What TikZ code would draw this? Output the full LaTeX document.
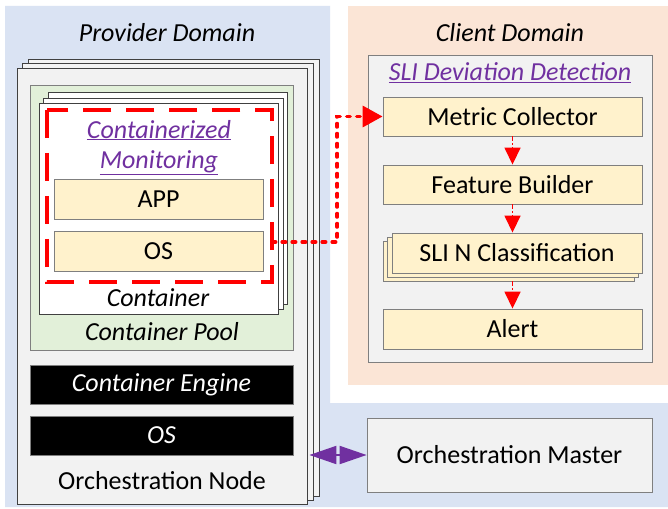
\documentclass[tikz,border=0pt]{standalone}
\usepackage{fontspec}
\setmainfont{Carlito}
\usetikzlibrary{arrows.meta,calc}

\definecolor{provbg}{HTML}{DAE3F3}
\definecolor{clibg}{HTML}{FBE5D6}
\definecolor{poolbg}{HTML}{E2F0D9}
\definecolor{lgray}{HTML}{F2F2F2}
\definecolor{ybox}{HTML}{FFF2CC}
\definecolor{purp}{HTML}{7030A0}
\definecolor{edge}{HTML}{7F7F7F}
\definecolor{dedge}{HTML}{404040}

\newcommand{\bodysize}{\fontsize{26}{30}\selectfont}

\tikzset{
  bodyfont/.style={font=\bodysize},
  frame/.style={draw=dedge, line width=0.8pt, inner sep=0pt},
  nodebox/.style={frame, fill=lgray},
  ctrbox/.style={frame, fill=white},
  ybx/.style={draw=edge, line width=0.9pt, fill=ybox, inner sep=0pt, bodyfont},
  blackbox/.style={draw=edge, line width=0.8pt, fill=black, text=white, inner sep=0pt,
    font=\bodysize\itshape},
  lbl/.style={inner sep=0pt, bodyfont},
  ilbl/.style={inner sep=0pt, font=\bodysize\itshape},
  plbl/.style={inner sep=0pt, anchor=base, text=purp, font=\bodysize\itshape},
  monframe/.style={draw=red, line width=3.5pt, dash pattern=on 28pt off 15pt},
  feed/.style={draw=red, line width=3.5pt, line cap=round, dash pattern=on 3.5pt off 6.5pt,
    -{Triangle[length=20pt,width=21pt,line cap=butt]}},
  flow/.style={draw=red, line width=1.6pt, dash pattern=on 5pt off 2pt on 1.5pt off 2pt,
    -{Triangle[length=17pt,width=16pt]}},
  orch/.style={draw=purp, fill=purp, line width=2pt,
    {Triangle[length=27pt,width=18pt]}-{Triangle[length=27pt,width=18pt]}},
}

% corner-based box: \bx{style}{name}{x1}{y1}{x2}{y2}{text}
\newcommand{\bx}[7]{%
  \node[#1, minimum width={(#5)-(#3)}, minimum height={(#6)-(#4)}]
    (#2) at ({((#3)+(#5))/2},{((#4)+(#6))/2}) {#7};}

\begin{document}
\begin{tikzpicture}[x=1pt,y=-1pt]
\useasboundingbox (0,0) rectangle (668,508);
\fill[white] (0,0) rectangle (668,508);

% provider and client domains
\fill[provbg] (5,6) -- (330,6) -- (330,403) -- (668,403) -- (668,507) -- (5,507) -- cycle;
\fill[clibg] (348,6) rectangle (668,385);
\node[ilbl] (provT) at (167,33) {Provider Domain};
\node[ilbl] (cliT) at (510,33) {Client Domain};

% orchestration node stack
\bx{nodebox}{onC}{28}{59}{319}{496}{}
\bx{nodebox}{onB}{22}{63}{313}{500}{}
\bx{nodebox}{onA}{17}{68}{307}{504}{}
\node[lbl] (onT) at (162,481) {Orchestration Node};

% container pool
\bx{frame, draw=edge, fill=poolbg}{pool}{30}{85}{293}{350}{}
\node[ilbl] (poolT) at (162,332) {Container Pool};

% container stack
\bx{ctrbox}{ctC}{48}{92}{287}{304}{}
\bx{ctrbox}{ctB}{43}{98}{283}{309}{}
\bx{ctrbox}{ctA}{39}{103}{278}{314}{}
\node[ilbl] (ctT) at (158,298) {Container};

% containerized monitoring
\bx{inner sep=0pt}{mon}{47}{110}{272}{282}{}
\draw[monframe] (mon.north west) rectangle (mon.south east);
\node[plbl] (monT1) at (159,138) {\underline{Containerized}};
\node[plbl] (monT2) at (159,168) {\underline{Monitoring}};
\bx{ybx}{app}{54}{179}{263}{219}{APP}
\bx{ybx}{cos}{54}{231}{263}{271}{OS}

% engine and host OS
\bx{blackbox}{eng}{30}{365}{293}{404}{Container Engine}
\bx{blackbox}{hos}{30}{416}{293}{455}{OS}

% SLI deviation detection
\bx{frame, draw=edge, fill=lgray}{sli}{368}{55}{652}{362}{}
\node[plbl] (sliT) at (510,81) {\underline{SLI Deviation Detection}};
\bx{ybx}{mc}{383}{97}{642}{136}{Metric Collector}
\bx{ybx}{fb}{383}{165}{642}{204}{Feature Builder}
\bx{ybx}{clsC}{383}{241}{634}{281}{}
\bx{ybx}{clsB}{387}{237}{638}{277}{}
\bx{ybx}{clsA}{392}{233}{642}{273}{SLI N Classification}
\bx{ybx}{al}{383}{309}{642}{349}{Alert}

% orchestration master
\bx{frame, draw=edge, fill=lgray, bodyfont}{om}{367}{418}{652}{492}{Orchestration Master}

% metric feed from the container to the collector
\coordinate (tap) at ($(mon.east)+(0,46)$);
\draw[feed] (tap) -- ++(65,0) |- (mc.west);

% detection pipeline
\draw[flow] (mc.south) -- (mc.south |- fb.north);
\draw[flow] (fb.south) -- (fb.south |- clsA.north);
\draw[flow] (clsC.south -| al.north) -- (al.north);

% orchestration link
\draw[orch] ([xshift=2pt]om.west -| onA.east) -- (om.west);
\end{tikzpicture}
\end{document}
